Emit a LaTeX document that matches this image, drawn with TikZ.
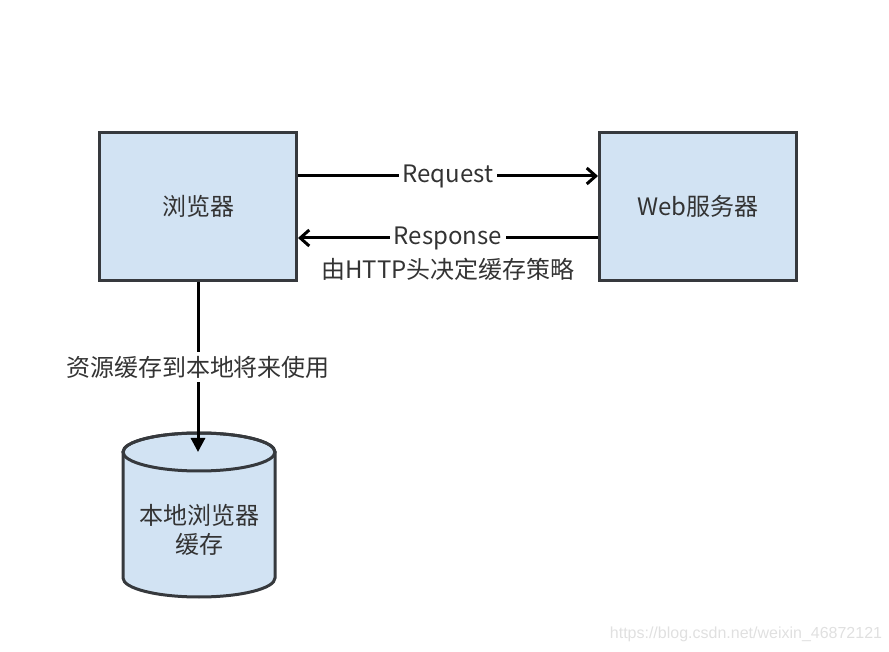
\documentclass[tikz,border=0pt]{standalone}
\usepackage{fontspec}
\setmainfont{Noto Sans CJK SC}
\newfontfamily\wmfont{Liberation Sans}
\usetikzlibrary{arrows.meta}
\definecolor{boxfill}{HTML}{D2E3F3}
\definecolor{boxline}{HTML}{36393D}
\definecolor{txt}{HTML}{333333}
\tikzset{
  box/.style={draw=boxline,fill=boxfill,line width=3pt,minimum width=197pt,minimum height=148pt,text=txt,font=\fontsize{24}{29}\selectfont},
  flow/.style={line width=3pt,draw=black},
  lbl/.style={fill=white,text=txt,inner sep=4pt,font=\fontsize{24}{29}\selectfont}
}
\begin{document}
\begin{tikzpicture}[x=1pt,y=1pt]
			\useasboundingbox (0,0) rectangle (889,651);
			\node[box] (browser) at (198,444.5) {浏览器};
			\node[box] (web) at (698,444.5) {Web服务器};
			% Request / Response
			\draw[flow,-{Straight Barb[length=9pt,width=16pt]}] ([yshift=30.5pt]browser.east) -- ([yshift=30.5pt]web.west) node[midway,lbl]{Request};
			\draw[flow,-{Straight Barb[length=9pt,width=16pt]}] ([yshift=-31.5pt]web.west) -- ([yshift=-31.5pt]browser.east) node[midway,lbl](resp){Response};
			\node[text=txt,font=\fontsize{24}{29}\selectfont,below=0pt] (policy) at (resp.south) {由HTTP头决定缓存策略};
			% local cache (cylinder)
			\path[fill=boxfill,draw=boxline,line width=3pt] (123,199) -- (123,73) arc[start angle=180,end angle=360,x radius=76,y radius=19] -- (275,199) arc[start angle=0,end angle=180,x radius=76,y radius=19] -- cycle;
			\draw[boxline,line width=3pt] (199,199) ellipse[x radius=76,y radius=19];
			\coordinate (cyltop) at (199,199);
			\node[align=center,text=txt,font=\fontsize{24}{29}\selectfont] (cache) at (199,121) {本地浏览器\\缓存};
			\draw[flow,-{Triangle[length=14pt,width=14pt]}] (browser.south) -- (browser.south |- cyltop) node[midway,lbl]{资源缓存到本地将来使用};
			\node[text=black!12,font=\wmfont\fontsize{16}{18}\selectfont] (wm) at (746,17) {https://blog.csdn.net/weixin\_46872121};
\end{tikzpicture}
\end{document}
